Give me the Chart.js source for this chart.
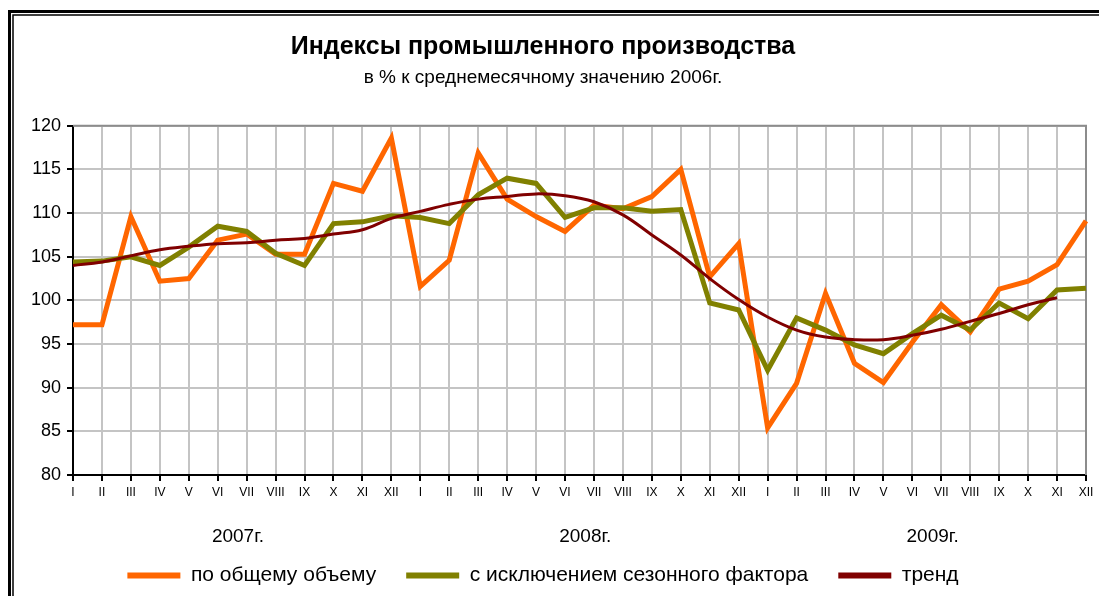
<!DOCTYPE html>
<html>
<head>
<meta charset="utf-8">
<script src="https://cdn.jsdelivr.net/npm/chart.js@4"></script>
<style>
	html, body { margin: 0; padding: 0; background: #fff; }
	#wrap { width: 1099px; height: 596px; }
</style>
</head>
<body>
<div id="wrap"><canvas id="chart"></canvas></div>
<script>
/*Индексы промышленного производства 2007-2009*/

// месяцы (подписи оси X)
const months = ['I', 'II', 'III', 'IV', 'V', 'VI', 'VII', 'VIII', 'IX', 'X', 'XI', 'XII'];
const labels = [].concat(months, months, months);
const years = ['2007г.', '2008г.', '2009г.'];

// по общему объему
const totalVolume = [
	97.2, 97.2, 109.6, 102.2, 102.5, 106.9, 107.6, 105.3, 105.3, 113.4, 112.5, 118.6,
	101.6, 104.6, 116.9, 111.6, 109.6, 107.9, 110.9, 110.5, 111.9, 115.0, 102.7, 106.5,
	85.4, 90.5, 100.8, 92.8, 90.6, 95.2, 99.5, 96.4, 101.3, 102.2, 104.1, 109.1
];

// с исключением сезонного фактора
const seasonAdj = [
	104.4, 104.5, 105.0, 104.0, 106.1, 108.5, 107.9, 105.4, 104.0, 108.8, 109.0, 109.7,
	109.5, 108.8, 112.1, 114.0, 113.4, 109.5, 110.6, 110.6, 110.2, 110.4, 99.7, 98.9,
	92.0, 98.0, 96.6, 94.9, 93.9, 96.2, 98.3, 96.6, 99.7, 97.9, 101.2, 101.4
];

// тренд
const trend = [
	104.0, 104.4, 105.1, 105.8, 106.2, 106.5, 106.6, 106.9, 107.1, 107.6, 108.1, 109.4,
	110.2, 111.0, 111.6, 111.9, 112.2, 112.0, 111.3, 109.8, 107.5, 105.2, 102.5, 100.1,
	98.1, 96.6, 95.8, 95.5, 95.5, 96.0, 96.7, 97.6, 98.5, 99.5, 100.3, null
];

const yTicks = { min: 80, max: 120, step: 5 };

const FONT = 'Liberation Sans, Arial, sans-serif';

/* рамка и фон */
const framePlugin = {
	id: 'frame',
	beforeDraw(chart) {
		const ctx = chart.ctx;
		ctx.save();
		ctx.fillStyle = '#fff';
		ctx.fillRect(0, 0, chart.width, chart.height);
		ctx.strokeStyle = '#000';
		// внешняя линия
		ctx.lineWidth = 3;
		ctx.beginPath();
		ctx.moveTo(9.5, chart.height + 5);
		ctx.lineTo(9.5, 11.5);
		ctx.lineTo(chart.width + 5, 11.5);
		ctx.stroke();
		// внутренняя линия
		ctx.lineWidth = 1.5;
		ctx.beginPath();
		ctx.moveTo(13, chart.height + 5);
		ctx.lineTo(13, 15);
		ctx.lineTo(chart.width + 5, 15);
		ctx.stroke();
		ctx.restore();
	},
	beforeDatasetsDraw(chart) {
		// верхняя и правая граница области построения
		const a = chart.chartArea;
		const ctx = chart.ctx;
		ctx.save();
		ctx.strokeStyle = '#8c8c8c';
		ctx.lineWidth = 2;
		ctx.beginPath();
		ctx.moveTo(a.left, a.top);
		ctx.lineTo(a.right, a.top);
		ctx.lineTo(a.right, a.bottom);
		ctx.stroke();
		ctx.restore();
	},
	afterDraw(chart) {
		// подписи годов
		const x = chart.scales.x;
		const ctx = chart.ctx;
		ctx.save();
		ctx.fillStyle = '#000';
		ctx.font = '19px ' + FONT;
		ctx.textAlign = 'center';
		ctx.textBaseline = 'middle';
		years.forEach(function(y, i) {
			ctx.fillText(y, x.getPixelForValue(5.7 + i * 12), 537);
		});
		ctx.restore();
	}
};

const data = {
	labels: labels,
	datasets: [{
		label: 'по общему объему',
		data: totalVolume,
		borderColor: '#ff6600',
		backgroundColor: '#ff6600',
		borderWidth: 5,
		pointRadius: 0,
		tension: 0,
		borderJoinStyle: 'miter',
		order: 3
	}, {
		label: 'с исключением сезонного фактора',
		data: seasonAdj,
		borderColor: '#808000',
		backgroundColor: '#808000',
		borderWidth: 5,
		pointRadius: 0,
		tension: 0,
		borderJoinStyle: 'miter',
		order: 2
	}, {
		label: 'тренд',
		data: trend,
		borderColor: '#800000',
		backgroundColor: '#800000',
		borderWidth: 3,
		pointRadius: 0,
		tension: 0.4,
		order: 1
	}]
};

const config = {
	type: 'line',
	data: data,
	plugins: [framePlugin],
	options: {
		responsive: true,
		maintainAspectRatio: false,
		animation: false,
		layout: { padding: { left: 0, right: 13, top: 0, bottom: 0 } },
		plugins: {
			title: {
				display: true,
				text: 'Индексы промышленного производства',
				color: '#000',
				font: { family: FONT, size: 25, weight: 'bold' },
				padding: { top: 32, bottom: 3 }
			},
			subtitle: {
				display: true,
				text: 'в % к среднемесячному значению 2006г.',
				color: '#000',
				font: { family: FONT, size: 19 },
				padding: { top: 1, bottom: 37 }
			},
			legend: {
				position: 'bottom',
				labels: {
					color: '#000',
					font: { family: FONT, size: 21 },
					boxWidth: 53,
					boxHeight: 6,
					padding: 30,
					sort: function(a, b) { return a.datasetIndex - b.datasetIndex; },
					generateLabels: function(chart) {
						return Chart.defaults.plugins.legend.labels.generateLabels(chart).map(function(l) {
							l.lineWidth = 0;
							return l;
						});
					}
				}
			},
			tooltip: { enabled: false }
		},
		scales: {
			x: {
				afterFit: function(scale) { scale.height = 60; },
				grid: {
					color: '#c4c4c4',
					lineWidth: 2,
					tickColor: '#000',
					tickLength: 6,
					tickWidth: 2
				},
				border: { color: '#000', width: 2 },
				ticks: {
					autoSkip: false,
					maxRotation: 0,
					padding: 4,
					color: '#000',
					font: { family: FONT, size: 12 }
				}
			},
			y: {
				min: yTicks.min,
				max: yTicks.max,
				afterFit: function(scale) { scale.width = 73; },
				grid: {
					color: '#c4c4c4',
					lineWidth: 2,
					tickColor: '#000',
					tickLength: 6,
					tickWidth: 2
				},
				border: { color: '#000', width: 2 },
				ticks: {
					stepSize: yTicks.step,
					padding: 6,
					color: '#000',
					font: { family: FONT, size: 18 }
				}
			}
		}
	}
};

const chart = new Chart(document.getElementById('chart'), config);
</script>
</body>
</html>
